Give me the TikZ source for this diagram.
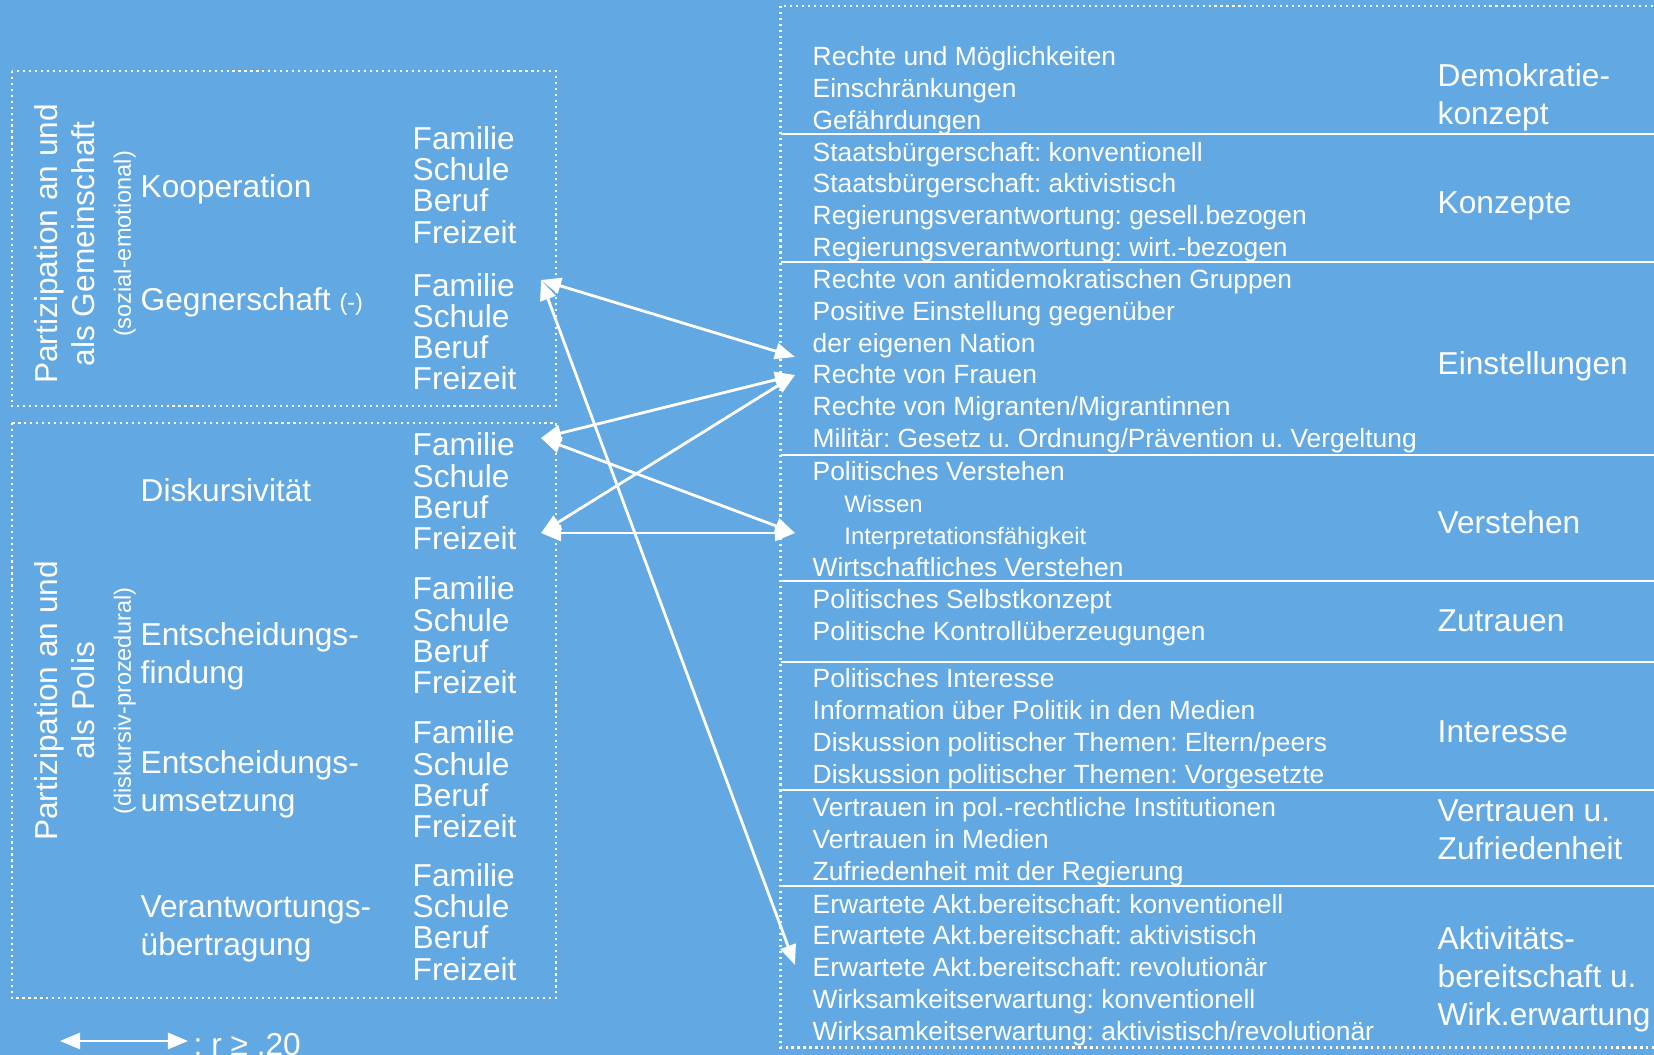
\documentclass[tikz,border=0pt]{standalone}
\usepackage{fontspec}
\setmainfont{Liberation Sans}
\frenchspacing
\usetikzlibrary{arrows.meta,positioning}
\definecolor{posterBlue}{RGB}{98,168,226}

\tikzset{
  dotbox/.style={draw=white,line width=0.6pt,dash pattern=on 0.6pt off 1.1pt},
  biglabel/.style={text=white,font=\fontsize{9}{10.8}\selectfont,align=left,anchor=west,inner sep=0pt},
  placelist/.style={text=white,font=\fontsize{9}{8.9}\selectfont,align=left,anchor=west,inner sep=0pt},
  itemlist/.style={text=white,font=\fontsize{7.5}{9.05}\selectfont,align=left,anchor=west,inner sep=0pt},
  areatitle/.style={rotate=90,text=white,align=center,font=\fontsize{9}{10.5}\selectfont,inner sep=0pt},
  sepline/.style={draw=white,line width=0.6pt},
  corr/.style={white,line width=0.8pt,{Triangle[length=2mm,width=1.6mm]}-{Triangle[length=2mm,width=1.6mm]}}
}

\begin{document}
\begin{tikzpicture}[x=0.01cm,y=-0.01cm]
% background
\fill[posterBlue] (0,0) rectangle (1654,1055);
\useasboundingbox (0,0) rectangle (1654,1055);
\clip (0,0) rectangle (1654,1055);

% dotted frames
\draw[dotbox] (11.6,70.7) rectangle (556,406);
\draw[dotbox] (11.6,423) rectangle (556,998);
\draw[dotbox] (780.5,6.3) rectangle (1700,1047.5);

% Gemeinschaft
\node[areatitle] (gemTitle) at (85,244)
  {Partizipation an und\\als Gemeinschaft\\{\fontsize{6.7}{10.5}\selectfont(sozial-emotional)}};
\node[biglabel] (koop) at (140,189.7) {Kooperation};
\node[biglabel] (gegner) at (140,302.6) {Gegnerschaft {\fontsize{6.7}{8}\selectfont(-)}};

% Polis
\node[areatitle] (polisTitle) at (85,701)
  {Partizipation an und\\als Polis\\{\fontsize{6.7}{10.5}\selectfont(diskursiv-prozedural)}};
\node[biglabel] (diskurs) at (140,490.5) {Diskursivität};
\node[biglabel] (findung) at (140,656) {Entscheidungs-\\findung};
\node[biglabel] (umsetzung) at (140,784.6) {Entscheidungs-\\umsetzung};
\node[biglabel] (verantw) at (140,929) {Verantwortungs-\\übertragung};

% places
\foreach \n/\y in {1/185,2/331.7,3/491.5,4/635.5,5/779.5,6/921.9}
  \node[placelist] (fam\n) at (412,\y) {Familie\\Schule\\Beruf\\Freizeit};

% outcome column
\foreach \y in {134,261.6,454.6,581.2,662.4,790,886}
  \draw[sepline] (780.5,\y) -- (1654,\y);

\node[itemlist] (demo) at (812,90.5)
  {Rechte und Möglichkeiten\\Einschränkungen\\Gefährdungen};
\node[itemlist] (konz) at (812,202)
  {Staatsbürgerschaft: konventionell\\Staatsbürgerschaft: aktivistisch\\
   Regierungsverantwortung: gesell.bezogen\\Regierungsverantwortung: wirt.-bezogen};
\node[itemlist] (einst) at (812,361.2)
  {Rechte von antidemokratischen Gruppen\\Positive Einstellung gegenüber\\der eigenen Nation\\
   Rechte von Frauen\\Rechte von Migranten/Migrantinnen\\
   Militär: Gesetz u. Ordnung/Prävention u. Vergeltung};
\node[itemlist] (verst) at (812,519)
  {Politisches Verstehen\\
   \hspace*{9pt}{\fontsize{6.8}{9}\selectfont Wissen}\\
   \hspace*{9pt}{\fontsize{6.8}{9}\selectfont Interpretationsfähigkeit}\\
   Wirtschaftliches Verstehen};
\node[itemlist] (zutr) at (812,617.5)
  {Politisches Selbstkonzept\\Politische Kontrollüberzeugungen};
\node[itemlist] (inter) at (812,728.5)
  {Politisches Interesse\\Information über Politik in den Medien\\
   Diskussion politischer Themen: Eltern/peers\\Diskussion politischer Themen: Vorgesetzte};
\node[itemlist] (vertr) at (812,841.6)
  {Vertrauen in pol.-rechtliche Institutionen\\Vertrauen in Medien\\Zufriedenheit mit der Regierung};
\node[itemlist] (aktiv) at (812,970)
  {Erwartete Akt.bereitschaft: konventionell\\Erwartete Akt.bereitschaft: aktivistisch\\
   Erwartete Akt.bereitschaft: revolutionär\\Wirksamkeitserwartung: konventionell\\
   Wirksamkeitserwartung: aktivistisch/revolutionär};

% outcome labels
\node[biglabel] (demoL) at (1437,97) {Demokratie-\\konzept};
\node[biglabel] (konzL) at (1437,205.5) {Konzepte};
\node[biglabel] (einstL) at (1437,366) {Einstellungen};
\node[biglabel] (verstL) at (1437,522.1) {Verstehen};
\node[biglabel] (zutrL) at (1437,620.5) {Zutrauen};
\node[biglabel] (interL) at (1437,732) {Interesse};
\node[biglabel] (vertrL) at (1437,830) {Vertrauen u.\\Zufriedenheit};
\node[biglabel] (aktivL) at (1437,979.5) {Aktivitäts-\\bereitschaft u.\\Wirk.erwartung};

% correlations
\coordinate (gegR) at (541,280);
\coordinate (diskTop) at (541,438);
\coordinate (diskBot) at (541,533);
\coordinate (einstA) at (795,357);
\coordinate (einstB) at (795,375);
\coordinate (verstP) at (795,533);
\coordinate (aktivP) at (795,965);
\draw[corr] (gegR) -- (einstA);
\draw[corr] (gegR) -- (aktivP);
\draw[corr] (diskTop) -- (einstB);
\draw[corr] (diskTop) -- (verstP);
\draw[corr] (diskBot) -- (einstB);
\draw[corr] (diskBot) -- (verstP);

% legend
\coordinate (legA) at (60,1041);
\coordinate (legB) at (188,1041);
\draw[corr] (legA) -- (legB);
\node[anchor=base west,text=white,font=\fontsize{9}{10}\selectfont,inner sep=0pt] (legT) at (193,1055) {: r ≥ .20};
\end{tikzpicture}
\end{document}
